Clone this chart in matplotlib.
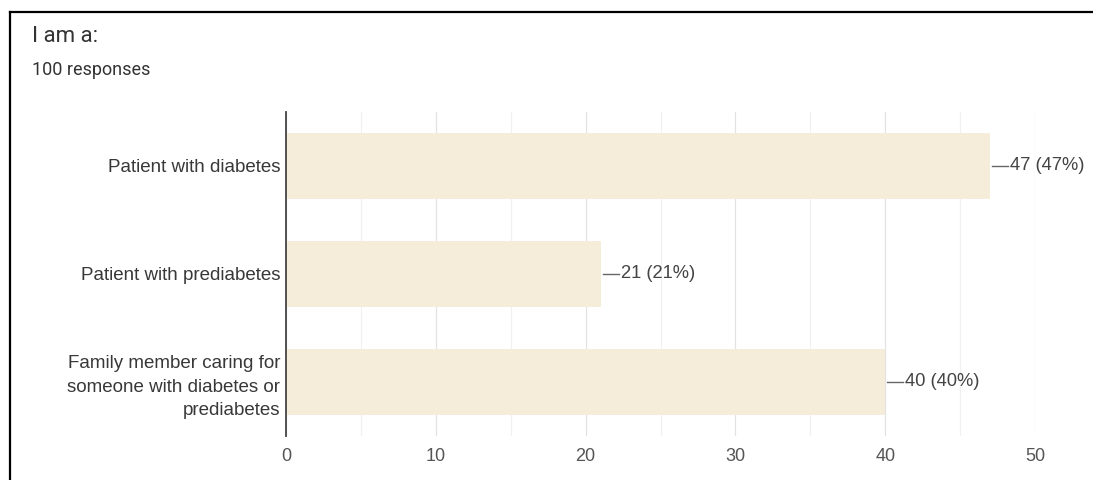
import matplotlib.pyplot as plt
from matplotlib.lines import Line2D

categories = ["Patient with diabetes",
              "Patient with prediabetes",
              "Family member caring for\nsomeone with diabetes or\nprediabetes"]
counts = [47, 21, 40]
percents = [47, 21, 40]
total = 100
xticks = [0, 10, 20, 30, 40, 50]

plt.rcParams['font.family'] = ['Liberation Sans', 'DejaVu Sans']

fig = plt.figure(figsize=(10.93, 4.8), dpi=100)
ax = fig.add_axes([0.2617, 0.0917, 0.6853, 0.675])

ypos = list(range(len(categories)))
ax.barh(ypos, counts, height=0.62, color="#f6ecda", zorder=2)

# leader line + value label to the right of each bar
for y, c, p in zip(ypos, counts, percents):
    ax.plot([c + 0.13, c + 1.2], [y, y], color="#666666", lw=1.0, zorder=3)
    ax.text(c + 1.33, y, "%d (%d%%)" % (c, p), va="center", ha="left",
            fontsize=13.2, color="#444444", zorder=3)

ax.set_xlim(0, 50)
ax.set_ylim(2.5, -0.5)
ax.set_xticks(xticks)
ax.set_xticks([5, 15, 25, 35, 45], minor=True)
ax.set_yticks(ypos)
ax.set_yticklabels(categories, fontsize=13.5, color="#383838", linespacing=1.5)
ax.tick_params(axis="y", length=0, pad=4)
ax.tick_params(axis="x", which="both", length=0, pad=9, labelsize=13,
               labelcolor="#555555")
ax.grid(axis="x", which="major", color="#e3e3e3", lw=0.9, zorder=0)
ax.grid(axis="x", which="minor", color="#f1f1f1", lw=0.9, zorder=0)
for s in ["top", "right", "bottom"]:
    ax.spines[s].set_visible(False)
ax.spines["left"].set_color("#444444")
ax.spines["left"].set_linewidth(1.3)
ax.spines["left"].set_zorder(4)

fig.text(0.0295, 0.9125, "I am a:", fontsize=16, color="#333333",
         family=["Roboto", "DejaVu Sans"], va="baseline")
fig.text(0.0295, 0.844, "%d responses" % total, fontsize=13, color="#333333",
         family=["Roboto", "DejaVu Sans"], va="baseline")

# screenshot border on top and left
fig.add_artist(Line2D([0.0092, 1.0], [0.976, 0.976], color="black", lw=1.6))
fig.add_artist(Line2D([0.0092, 0.0092], [0.0, 0.976], color="black", lw=1.6))

fig.savefig("out.png", dpi=100)
